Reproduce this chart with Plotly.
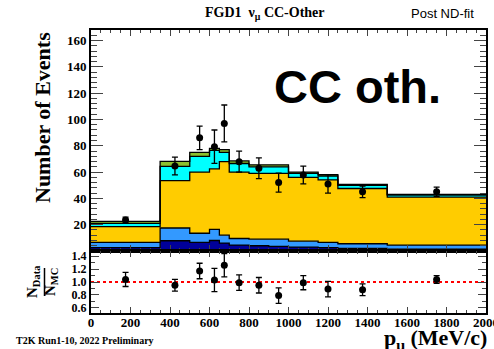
import plotly.graph_objects as go

# ---------------- data ----------------
edges = [0, 350, 500, 600, 650, 700, 800, 900, 1000, 1150, 1250, 1500, 2000]
navy = [2.5, 7.8, 6.5, 8.0, 6.0, 4.5, 4.0, 3.5, 3.0, 2.5, 2.0, 1.5]
blue = [4.0, 9.7, 7.0, 8.5, 6.0, 5.0, 5.0, 5.5, 4.5, 4.0, 3.5, 3.0]
yellow = [12.0, 36.0, 46.5, 46.0, 56.0, 50.5, 50.0, 50.0, 48.5, 47.5, 42.0, 36.5]
cyan = [2.5, 10.9, 12.0, 14.0, 7.0, 6.5, 5.0, 5.0, 3.0, 3.0, 2.5, 1.5]
green = [1.5, 3.8, 3.0, 1.5, 2.0, 2.0, 1.5, 1.5, 1.0, 1.0, 0.7, 0.5]

data = [23.5, 64.6, 86.0, 79.3, 97.0, 67.9, 62.9, 52.0, 57.8, 51.0, 45.0, 45.0]
data_err = [2.2, 6.7, 9.0, 12.7, 14.0, 8.0, 7.9, 7.2, 6.7, 7.0, 4.4, 3.5]
ratio = [1.04, 0.95, 1.17, 1.03, 1.26, 0.99, 0.95, 0.79, 0.99, 0.89, 0.88, 1.04]
ratio_err = [0.11, 0.09, 0.12, 0.18, 0.18, 0.12, 0.12, 0.12, 0.11, 0.12, 0.09, 0.06]

main_ticks = [20, 40, 60, 80, 100, 120, 140, 160]
ratio_ticks = [0.6, 0.8, 1.0, 1.2, 1.4]

layers = [
    ("navy", navy, "#000099"),
    ("blue", blue, "#3399ff"),
    ("yellow", yellow, "#ffcc00"),
    ("cyan", cyan, "#00ffff"),
    ("green", green, "#8dbf2e"),
]

centers = [(edges[i] + edges[i + 1]) / 2 for i in range(len(edges) - 1)]

SERIF = "Liberation Serif, Times New Roman, serif"
SANS = "Liberation Sans, Arial, sans-serif"

# ---------------- geometry helpers (pixel -> paper) ----------------
L, R, T, B = 91, 8, 30, 36
W, H = 494, 349
PW, PH = W - L - R, H - T - B


def px(x):
    return (x - L) / PW


def py(y):
    return (H - B - y) / PH


split = py(251)

fig = go.Figure()

for name, vals, col in layers:
    fig.add_trace(go.Scatter(
        x=edges, y=vals + [vals[-1]], mode="lines", line_shape="hv",
        stackgroup="mc", line=dict(color="black", width=1.3),
        fillcolor=col, name=name, showlegend=False, hoverinfo="skip",
        xaxis="x", yaxis="y"))

fig.add_trace(go.Scatter(
    x=centers, y=data, mode="markers",
    marker=dict(color="black", size=7),
    error_y=dict(type="data", array=data_err, color="black", thickness=1.3, width=3),
    showlegend=False, xaxis="x", yaxis="y"))

fig.add_trace(go.Scatter(
    x=[edges[0], edges[-1]], y=[1.0, 1.0], mode="lines",
    line=dict(color="#ff0000", width=2, dash="dot"),
    showlegend=False, xaxis="x2", yaxis="y2"))

fig.add_trace(go.Scatter(
    x=centers, y=ratio, mode="markers",
    marker=dict(color="black", size=7),
    error_y=dict(type="data", array=ratio_err, color="black", thickness=1.3, width=3),
    showlegend=False, xaxis="x2", yaxis="y2"))

# invisible traces so the mirrored tick-only axes are drawn
fig.add_trace(go.Scatter(x=[None], y=[None], xaxis="x3", yaxis="y3", showlegend=False))
fig.add_trace(go.Scatter(x=[None], y=[None], xaxis="x4", yaxis="y4", showlegend=False))

tickfont = dict(family=SERIF, size=13, color="black", weight="bold")
rtickfont = dict(family=SERIF, size=12, color="black", weight="bold")


def ticks_only(**kw):
    d = dict(showgrid=False, zeroline=False, showticklabels=False, showline=False,
             ticks="inside", tickwidth=1, automargin=False)
    d.update(kw)
    return d


fig.update_layout(
    width=W, height=H, margin=dict(l=L, r=R, t=T, b=B, autoexpand=False),
    paper_bgcolor="white", plot_bgcolor="white",
    xaxis=dict(domain=[0, 1], range=[0, 2000], anchor="y", automargin=False,
               showticklabels=False, showgrid=False, zeroline=False,
               ticks="inside", ticklen=6, tickwidth=1, dtick=200, tick0=0,
               minor=dict(dtick=50, ticks="inside", ticklen=3, tickwidth=1, showgrid=False),
               showline=True, linecolor="black", linewidth=2, mirror=True),
    yaxis=dict(domain=[split, 1], range=[0, 168], anchor="x", automargin=False,
               tickvals=main_ticks, showgrid=False, zeroline=False,
               ticks="inside", ticklen=12, tickwidth=1, tickfont=tickfont,
               minor=dict(dtick=4, tick0=0, ticks="inside", ticklen=6, tickwidth=1, showgrid=False),
               showline=True, linecolor="black", linewidth=2, mirror=True),
    xaxis2=dict(domain=[0, 1], range=[0, 2000], anchor="y2", automargin=False,
                showgrid=False, zeroline=False, tickfont=tickfont,
                ticklabeloverflow="allow", ticklabelstandoff=-4,
                ticks="inside", ticklen=6, tickwidth=1, dtick=200, tick0=0,
                minor=dict(dtick=50, ticks="inside", ticklen=3, tickwidth=1, showgrid=False),
                showline=True, linecolor="black", linewidth=2, mirror=True),
    yaxis2=dict(domain=[0, split], range=[0.52, 1.48], anchor="x2", automargin=False,
                tickvals=ratio_ticks, tickformat=".1f",
                showgrid=False, zeroline=False, tickfont=rtickfont,
                ticks="inside", ticklen=8, tickwidth=1,
                minor=dict(dtick=0.1, tick0=0.5, ticks="inside", ticklen=4, tickwidth=1, showgrid=False),
                showline=True, linecolor="black", linewidth=2, mirror=True),
    xaxis3=ticks_only(overlaying="x", side="top", anchor="y", range=[0, 2000],
                      ticklen=6, dtick=200, tick0=0,
                      minor=dict(dtick=50, ticks="inside", ticklen=3, tickwidth=1, showgrid=False)),
    yaxis3=ticks_only(overlaying="y", side="right", anchor="x3", range=[0, 168],
                      ticklen=12, tickvals=[0] + main_ticks,
                      minor=dict(dtick=4, tick0=0, ticks="inside", ticklen=6, tickwidth=1, showgrid=False)),
    xaxis4=ticks_only(overlaying="x2", side="top", anchor="y2", range=[0, 2000],
                      ticklen=6, dtick=200, tick0=0,
                      minor=dict(dtick=50, ticks="inside", ticklen=3, tickwidth=1, showgrid=False)),
    yaxis4=ticks_only(overlaying="y2", side="right", anchor="x4", range=[0.52, 1.48],
                      ticklen=8, tickvals=ratio_ticks,
                      minor=dict(dtick=0.1, tick0=0.5, ticks="inside", ticklen=4, tickwidth=1, showgrid=False)),
)

ann = [
    dict(text="FGD1  ν<sub>μ</sub> CC-Other", x=px(265), y=py(13),
         font=dict(family=SERIF, size=14, color="black", weight="bold")),
    dict(text="Post ND-fit", x=px(476), y=py(13), xanchor="right",
         font=dict(family=SANS, size=13, color="black")),
    dict(text="CC oth.", x=px(357), y=py(86),
         font=dict(family=SANS, size=47, color="black", weight="bold")),
    dict(text="Number of Events", x=px(42), y=py(118), textangle=-90,
         font=dict(family=SERIF, size=22, color="black", weight="bold")),
    dict(text="N<sub>Data</sub>", x=px(33), y=py(282), textangle=-90,
         font=dict(family=SERIF, size=15, color="black", weight="bold")),
    dict(text="N<sub>MC</sub>", x=px(51), y=py(282), textangle=-90,
         font=dict(family=SERIF, size=15, color="black", weight="bold")),
    dict(text="p<sub>μ</sub> (MeV/c)", x=px(489), y=py(339), xanchor="right",
         font=dict(family=SERIF, size=22, color="black", weight="bold")),
    dict(text="T2K Run1-10, 2022 Preliminary", x=px(14), y=py(340), xanchor="left",
         font=dict(family=SERIF, size=10, color="black", weight="bold")),
]
for a in ann:
    a.update(xref="paper", yref="paper", showarrow=False)
    a.setdefault("xanchor", "center")
    a.setdefault("yanchor", "middle")
fig.update_layout(annotations=ann)

fig.add_shape(type="line", xref="paper", yref="paper",
              x0=px(44.5), x1=px(44.5), y0=py(268), y1=py(296),
              line=dict(color="black", width=1.5))

fig.write_html("out.html")
